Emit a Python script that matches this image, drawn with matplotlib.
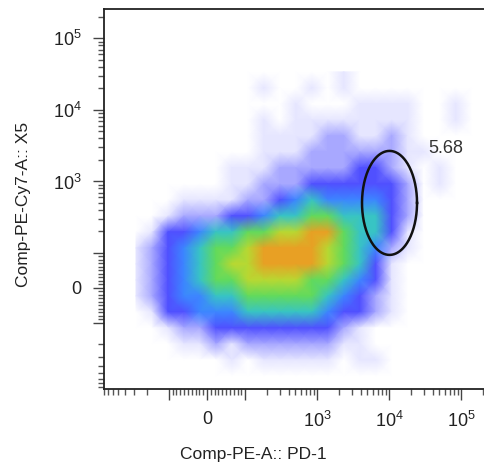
import numpy as np
import matplotlib
matplotlib.use('Agg')
import matplotlib.pyplot as plt
from matplotlib.colors import ListedColormap, BoundaryNorm
from matplotlib.ticker import NullFormatter

plt.rcParams['font.family'] = ['Liberation Sans', 'DejaVu Sans']
plt.rcParams['mathtext.fontset'] = 'custom'
plt.rcParams['mathtext.rm'] = 'Liberation Sans'
plt.rcParams['mathtext.it'] = 'Liberation Sans:italic'
plt.rcParams['mathtext.bf'] = 'Liberation Sans:bold'

# event density, 0 = empty ... 8 = densest
# rows go top -> bottom, columns left -> right
density_rows = [
    "0000000000000100000000",
    "0000000010010100000000",
    "0000000000100011110010",
    "0000000010111111110010",
    "0000000011112211210000",
    "0000000011122222211000",
    "0000001112222233210100",
    "0000001122233333320100",
    "0001111223454444320000",
    "0012223345566555320000",
    "0133455667788655310000",
    "1234566788887654210000",
    "1234567788887653100000",
    "1234566777766543100000",
    "1234455666665432100000",
    "0133444555554332100000",
    "0012233333333210000000",
    "0001121222222110000000",
    "0000001011111011000000",
    "0000000000000000000000",
]

level_colors = ['#ffffff', '#e6e6ff', '#a8a8ff', '#5050ff', '#3c86ff',
                '#38c4c4', '#62da5c', '#b8d832', '#e8a024']

x_label = 'Comp-PE-A:: PD-1'
y_label = 'Comp-PE-Cy7-A:: X5'
major_ticks = [-100, 0, 100, 1e3, 1e4, 1e5]
major_labels = ['', '0', '', r'$\mathregular{10^3}$', r'$\mathregular{10^4}$',
                r'$\mathregular{10^5}$']
gate_value = '5.68'

# gate ellipse in scale units (100 per decade, 0 at zero)
gate_center = (253.5, 118.9)
gate_radius = (38.2, 72.7)

# bin centres, in scale units
x_bin_start, x_bin_step = -98.6, 22.2
y_bin_start, y_bin_step = 302.1, -22.38

fig = plt.figure(figsize=(4.84, 4.72), dpi=100)
ax = fig.add_axes([103.8 / 484, 83 / 472, 387.5 / 484, 380.5 / 472])
ax.set_xscale('symlog', linthresh=100, linscale=0.477)
ax.set_yscale('symlog', linthresh=100, linscale=0.44)
ax.set_xlim(-800, 262144)
ax.set_ylim(-840, 262144)

dens = np.array([[int(c) for c in r] for r in density_rows])
nr, nc = dens.shape
xinv = ax.xaxis.get_transform().inverted()
yinv = ax.yaxis.get_transform().inverted()
xc = xinv.transform(x_bin_start + x_bin_step * np.arange(nc))
yc = yinv.transform(y_bin_start + y_bin_step * np.arange(nr))

cmap = ListedColormap(level_colors)
norm = BoundaryNorm(np.arange(-0.5, len(level_colors), 1), cmap.N)
ax.pcolormesh(xc, yc, dens, cmap=cmap, norm=norm, shading='gouraud', zorder=1)

# gate
th = np.linspace(0, 2 * np.pi, 200)
gx = xinv.transform(gate_center[0] + gate_radius[0] * np.cos(th))
gy = yinv.transform(gate_center[1] + gate_radius[1] * np.sin(th))
ax.plot(gx, gy, color='#111111', lw=1.8, zorder=3)
ax.text(3.46e4, 2850, gate_value, fontsize=13, ha='left', va='center',
        color='#333333', zorder=4)

# ticks
minor = []
for dec in [10, 100, 1000, 10000]:
    for m in range(2, 10):
        minor.append(m * dec)
minor = [v for v in minor if v != 10] + [10, 2e5]
minor_all = sorted(set(minor + [-v for v in minor if v < 900]))

for axis in (ax.xaxis, ax.yaxis):
    axis.set_ticks(major_ticks)
    axis.set_ticklabels(major_labels)
    axis.set_ticks(minor_all, minor=True)
    axis.set_minor_formatter(NullFormatter())

ax.tick_params(which='major', length=8, width=1, direction='out',
               labelsize=13, pad=8, color='#444444', labelcolor='#222222')
ax.tick_params(which='minor', length=4, width=1, direction='out',
               color='#555555')

for s in ax.spines.values():
    s.set_linewidth(1.3)
    s.set_color('#222222')

ax.set_xlabel(x_label, fontsize=12.5, color='#222222')
ax.set_ylabel(y_label, fontsize=12.5, color='#222222')
ax.xaxis.set_label_coords(0.385, -0.173)
ax.xaxis.label.set_va('center')
ax.yaxis.set_label_coords(-0.206, 0.484)
ax.yaxis.label.set_va('center')

plt.savefig('out.png', dpi=100)
